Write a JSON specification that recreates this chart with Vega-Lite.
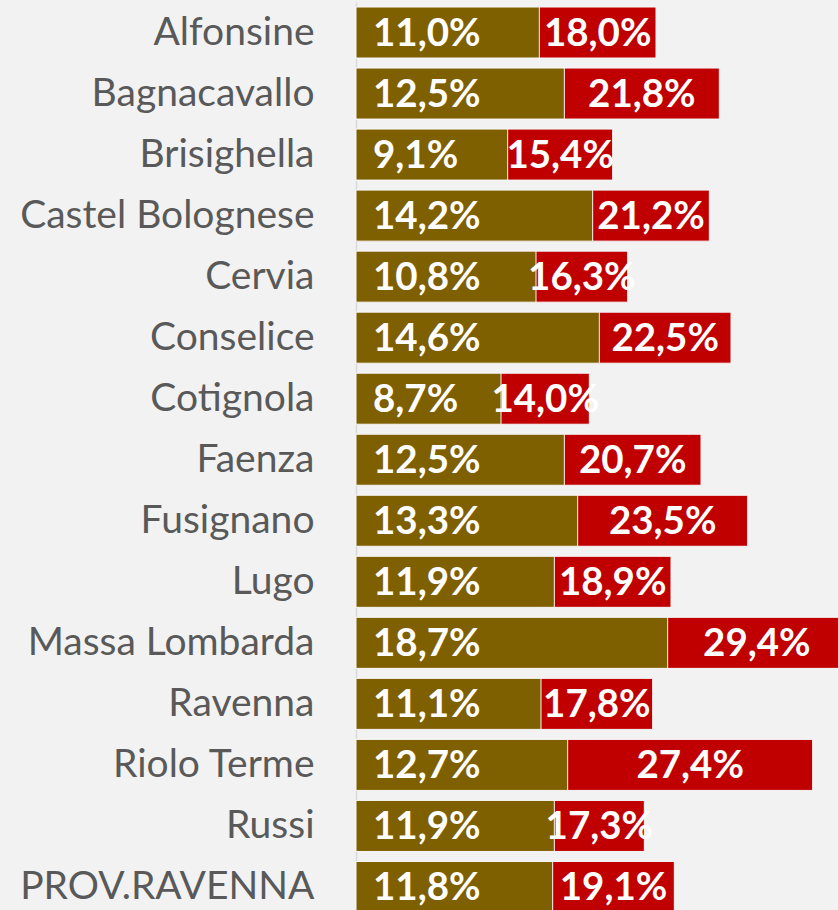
{
  "$schema": "https://vega.github.io/schema/vega-lite/v6.json",
  "autosize": {"type": "none"},
  "padding": {"left": 356, "top": 2, "right": 0, "bottom": 0},
  "width": 500,
  "height": 915.5,
  "background": "#F2F2F2",
  "config": {
    "view": {"stroke": null},
    "locale": {"number": {"decimal": ",", "thousands": ".", "grouping": [3], "currency": ["", " €"]}}
  },
  "data": {
    "values": [
      {"comune": "Alfonsine", "a": 0.110, "b": 0.180},
      {"comune": "Bagnacavallo", "a": 0.125, "b": 0.218},
      {"comune": "Brisighella", "a": 0.091, "b": 0.154},
      {"comune": "Castel Bolognese", "a": 0.142, "b": 0.212},
      {"comune": "Cervia", "a": 0.108, "b": 0.163},
      {"comune": "Conselice", "a": 0.146, "b": 0.225},
      {"comune": "Cotignola", "a": 0.087, "b": 0.140},
      {"comune": "Faenza", "a": 0.125, "b": 0.207},
      {"comune": "Fusignano", "a": 0.133, "b": 0.235},
      {"comune": "Lugo", "a": 0.119, "b": 0.189},
      {"comune": "Massa Lombarda", "a": 0.187, "b": 0.294},
      {"comune": "Ravenna", "a": 0.111, "b": 0.178},
      {"comune": "Riolo Terme", "a": 0.127, "b": 0.274},
      {"comune": "Russi", "a": 0.119, "b": 0.173},
      {"comune": "PROV.RAVENNA", "a": 0.118, "b": 0.191}
    ]
  },
  "encoding": {
    "y": {
      "field": "comune",
      "type": "nominal",
      "sort": ["Alfonsine", "Bagnacavallo", "Brisighella", "Castel Bolognese", "Cervia", "Conselice", "Cotignola", "Faenza", "Fusignano", "Lugo", "Massa Lombarda", "Ravenna", "Riolo Terme", "Russi", "PROV.RAVENNA"],
      "scale": {"paddingInner": 0.164, "paddingOuter": 0.082},
      "axis": {
        "title": null,
        "ticks": false,
        "labelPadding": 42,
        "labelFont": "Lato",
        "labelFontSize": 39,
        "labelColor": "#595959",
        "domainColor": "#D9D9D9",
        "domainWidth": 1.5,
        "labelLimit": 400
      }
    }
  },
  "layer": [
    {
      "mark": {"type": "bar", "color": "#C00000", "stroke": "#F7F7F7", "strokeWidth": 1},
      "encoding": {
        "x": {"field": "b", "type": "quantitative", "scale": {"domain": [0, 0.30]}, "axis": null}
      }
    },
    {
      "mark": {"type": "bar", "color": "#7F6000", "stroke": "#F7F7F7", "strokeWidth": 1},
      "encoding": {
        "x": {"field": "a", "type": "quantitative"}
      }
    },
    {
      "mark": {"type": "text", "align": "left", "baseline": "middle", "dx": 17, "dy": 1, "font": "Lato", "fontSize": 38.5, "fontWeight": "bold", "color": "#FFFFFF"},
      "encoding": {
        "x": {"datum": 0, "type": "quantitative"},
        "text": {"field": "a", "type": "quantitative", "format": ".1%"}
      }
    },
    {
      "transform": [{"fold": ["a", "b"], "as": ["serie", "valore"]}],
      "mark": {"type": "text", "align": "center", "baseline": "middle", "dy": 1, "font": "Lato", "fontSize": 38.5, "fontWeight": "bold", "color": "#FFFFFF"},
      "encoding": {
        "x": {"aggregate": "mean", "field": "valore", "type": "quantitative"},
        "text": {"aggregate": "max", "field": "valore", "type": "quantitative", "format": ".1%"}
      }
    }
  ]
}
